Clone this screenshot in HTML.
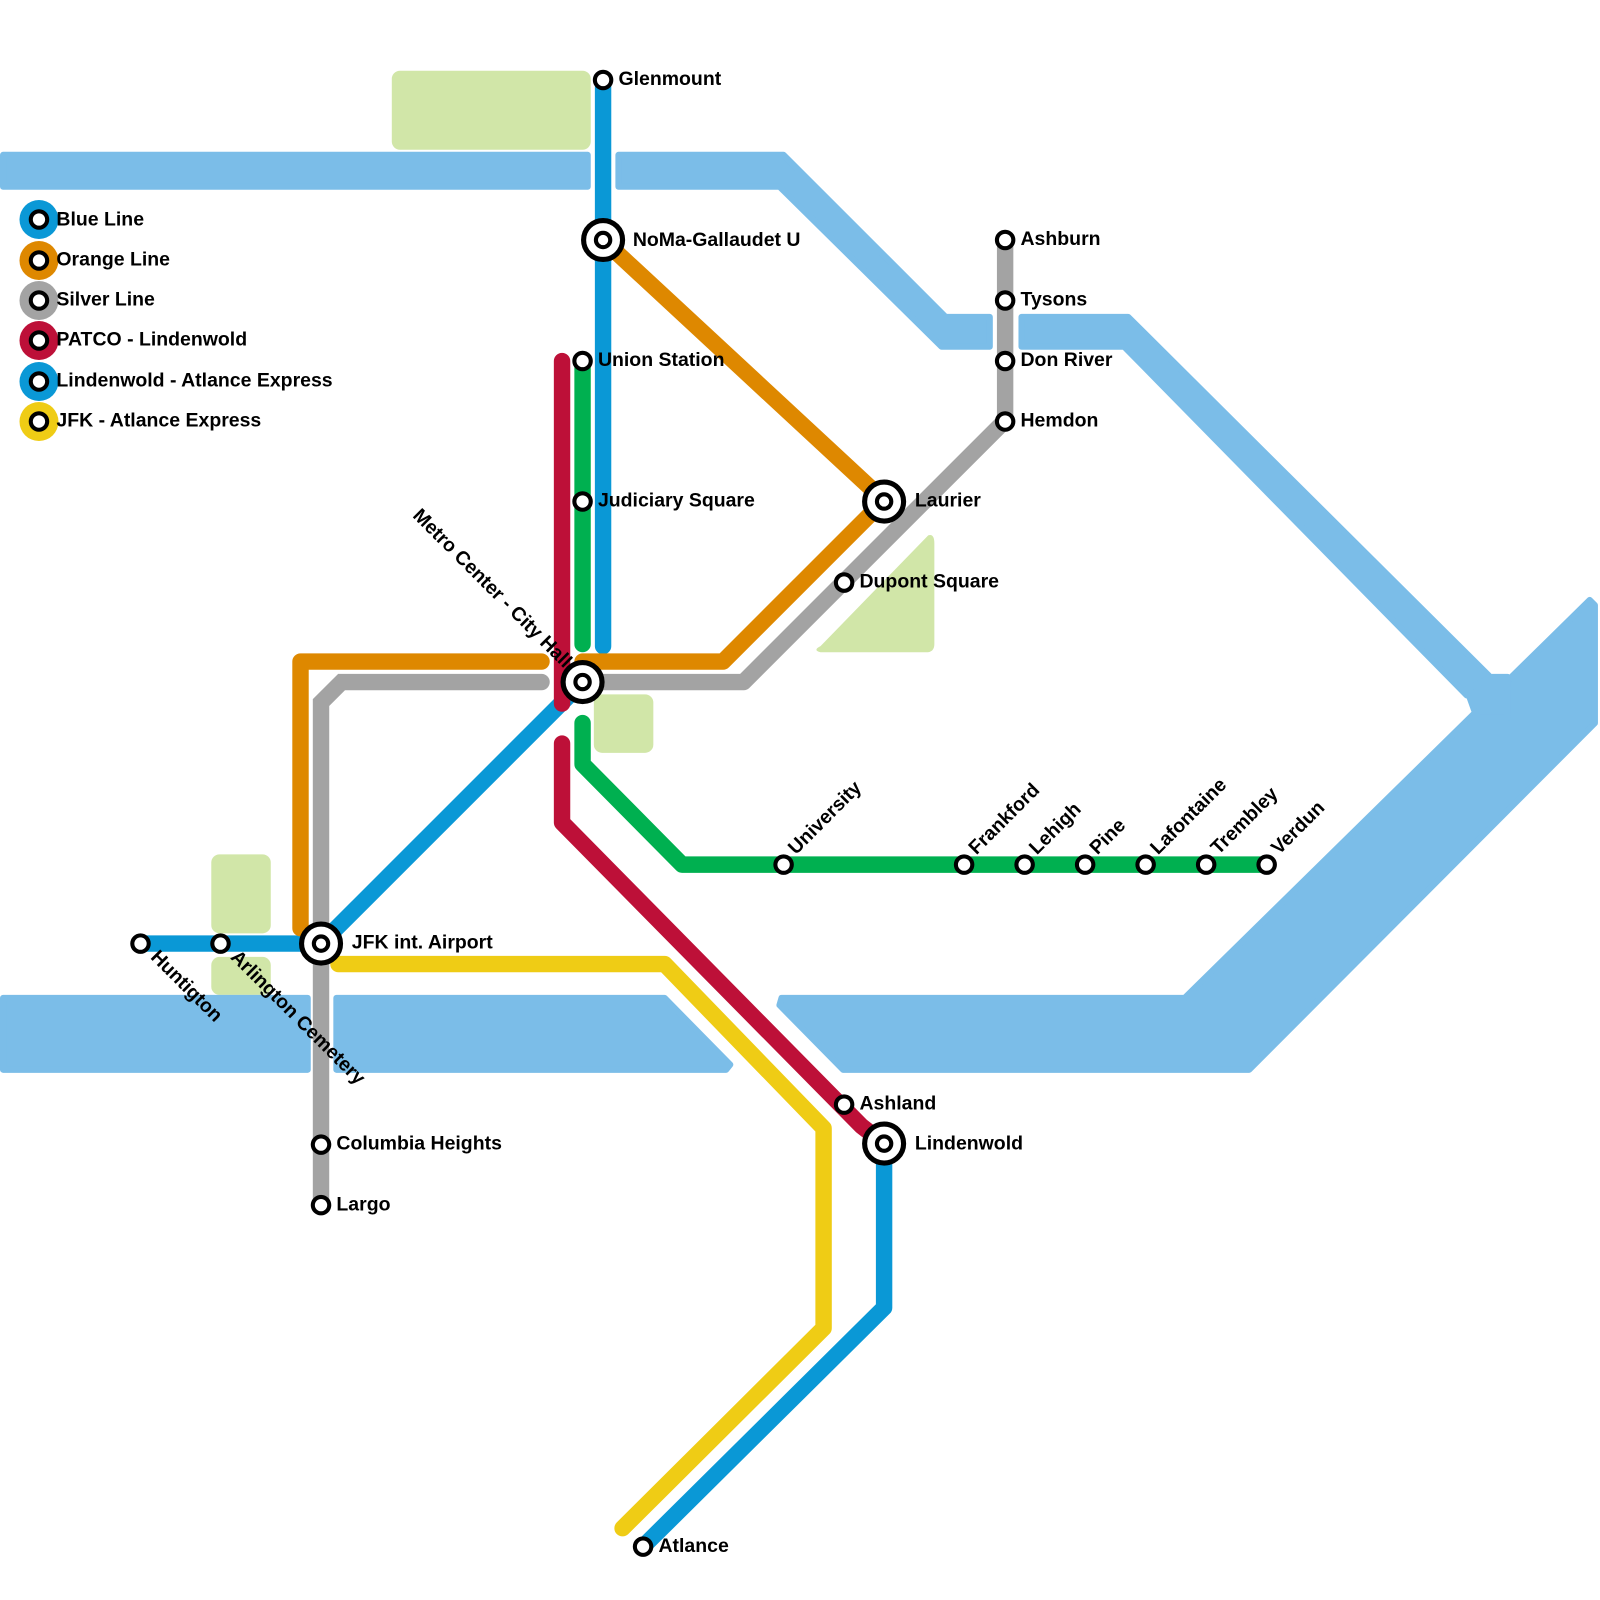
<!DOCTYPE html>
<html><head><meta charset="utf-8"><style>
html,body{margin:0;padding:0;background:#fff;}
svg{display:block;}
text{font-family:"Liberation Sans",Arial,sans-serif;font-weight:bold;font-size:19px;fill:#000;}
</style></head><body>
<svg width="1600" height="1600" viewBox="0 0 1560 1560" xmlns="http://www.w3.org/2000/svg">
<g fill="#d1e6a8">
<rect x="382" y="69" width="194" height="77" rx="8"/>
<path d="M800,630 L905,522 Q911,520 911,530 L911,628 Q911,636 903,636 L800,636 Q792,634 800,630Z"/>
<rect x="579" y="677" width="58" height="57" rx="8"/>
<rect x="206" y="833" width="58" height="77" rx="8"/>
<rect x="206" y="933" width="58" height="37" rx="8"/>
</g>
<g fill="#7bbde8" stroke="#7bbde8" stroke-linejoin="round" stroke-width="6">
<path d="M3,151 L573,151 L573,182 L3,182Z"/>
<path d="M603,151 L764,151 L922,309 L965,309 L965,338 L918,338 L760,182 L603,182Z"/>
<path d="M996,309 L1100,309 L1453,660 L1430,678 L1096,338 L996,338Z"/>
<path d="M1155,973 L1550,585 L1555,590 L1555,705 L1218,1043 L822,1043 L760,980 L762,973Z"/>
<path d="M1430,672 L1455,660 L1470,660 L1470,700 L1440,700Z"/>
<path d="M3,973 L300,973 L300,1043 L3,1043Z"/>
<path d="M328,973 L648,973 L712,1038 L708,1043 L328,1043Z"/>
</g>
<g fill="none" stroke-width="16" stroke-linecap="round" stroke-linejoin="round">
<polyline stroke="#efcc15" points="330,940 648,940 803,1100 803,1295 607,1490"/>
<polyline stroke="#0a98d6" points="588,78 588,630"/>
<polyline stroke="#0a98d6" points="137,920 313,920 568,665"/>
<polyline stroke="#0a98d6" points="862,1115 862,1275 630,1505"/>
<polyline stroke="#de8800" points="293,905 293,645 528,645"/>
<polyline stroke="#de8800" points="568,645 705,645 862,488"/>
<polyline stroke="#de8800" points="588,234 862,488"/>
<polyline stroke="#a3a3a3" stroke-linejoin="miter" points="313,1175 313,685 333,665 528,665"/>
<polyline stroke="#a3a3a3" points="568,665 725,665 980,410 980,234"/>
<polyline stroke="#bd1038" points="548,352 548,686"/>
<polyline stroke="#bd1038" points="548,725 548,802 840,1098 862,1115"/>
<polyline stroke="#00b050" points="568,352 568,628"/>
<polyline stroke="#00b050" points="568,705 568,745 665,843 1235,843"/>
</g>
<g fill="#fff" stroke="#000" stroke-width="4">
<circle cx="588" cy="78" r="8"/>
<circle cx="568" cy="352" r="8"/>
<circle cx="568" cy="489" r="8"/>
<circle cx="980" cy="234" r="8"/>
<circle cx="980" cy="293" r="8"/>
<circle cx="980" cy="352" r="8"/>
<circle cx="980" cy="411" r="8"/>
<circle cx="823" cy="568" r="8"/>
<circle cx="764" cy="843" r="8"/>
<circle cx="940" cy="843" r="8"/>
<circle cx="999" cy="843" r="8"/>
<circle cx="1058" cy="843" r="8"/>
<circle cx="1117" cy="843" r="8"/>
<circle cx="1176" cy="843" r="8"/>
<circle cx="1235" cy="843" r="8"/>
<circle cx="137" cy="920" r="8"/>
<circle cx="215" cy="920" r="8"/>
<circle cx="313" cy="1116" r="8"/>
<circle cx="313" cy="1175" r="8"/>
<circle cx="823" cy="1077" r="8"/>
<circle cx="627" cy="1508" r="8"/>
</g>
<g fill="#fff" stroke="#000">
<g stroke-width="5"><circle cx="588" cy="234" r="19"/><circle cx="862" cy="489" r="19"/><circle cx="568" cy="665" r="19"/><circle cx="313" cy="920" r="19"/><circle cx="862" cy="1115" r="19"/></g>
<g stroke-width="4"><circle cx="588" cy="234" r="7"/><circle cx="862" cy="489" r="7"/><circle cx="568" cy="665" r="7"/><circle cx="313" cy="920" r="7"/><circle cx="862" cy="1115" r="7"/></g>
</g>
<g>
<circle cx="38" cy="214" r="19" fill="#0a98d6"/>
<circle cx="38" cy="254" r="19" fill="#de8800"/>
<circle cx="38" cy="293" r="19" fill="#a3a3a3"/>
<circle cx="38" cy="332" r="19" fill="#bd1038"/>
<circle cx="38" cy="372" r="19" fill="#0a98d6"/>
<circle cx="38" cy="411" r="19" fill="#efcc15"/>
<g fill="#fff" stroke="#000" stroke-width="4">
<circle cx="38" cy="214" r="8"/><circle cx="38" cy="254" r="8"/><circle cx="38" cy="293" r="8"/>
<circle cx="38" cy="332" r="8"/><circle cx="38" cy="372" r="8"/><circle cx="38" cy="411" r="8"/>
</g>
<text x="55" y="220">Blue Line</text>
<text x="55" y="259">Orange Line</text>
<text x="55" y="298">Silver Line</text>
<text x="55" y="337">PATCO - Lindenwold</text>
<text x="55" y="377">Lindenwold - Atlance Express</text>
<text x="55" y="416">JFK - Atlance Express</text>
</g>
<text x="603" y="83">Glenmount</text>
<text x="617" y="240">NoMa-Gallaudet U</text>
<text x="583" y="357">Union Station</text>
<text x="583" y="494">Judiciary Square</text>
<text x="995" y="239">Ashburn</text>
<text x="995" y="298">Tysons</text>
<text x="995" y="357">Don River</text>
<text x="995" y="416">Hemdon</text>
<text x="892" y="494">Laurier</text>
<text x="838" y="573">Dupont Square</text>
<text x="343" y="925">JFK int. Airport</text>
<text x="328" y="1121">Columbia Heights</text>
<text x="328" y="1180">Largo</text>
<text x="838" y="1082">Ashland</text>
<text x="892" y="1121">Lindenwold</text>
<text x="642" y="1513">Atlance</text>
<text transform="translate(550,652) rotate(45)" text-anchor="end">Metro Center - City Hall</text>
<text transform="translate(146,934) rotate(45)">Huntigton</text>
<text transform="translate(224,934) rotate(45)">Arlington Cemetery</text>
<text transform="translate(776,834) rotate(-45)">University</text>
<text transform="translate(952,834) rotate(-45)">Frankford</text>
<text transform="translate(1011,834) rotate(-45)">Lehigh</text>
<text transform="translate(1070,834) rotate(-45)">Pine</text>
<text transform="translate(1129,834) rotate(-45)">Lafontaine</text>
<text transform="translate(1188,834) rotate(-45)">Trembley</text>
<text transform="translate(1247,834) rotate(-45)">Verdun</text>
</svg>
</body></html>
